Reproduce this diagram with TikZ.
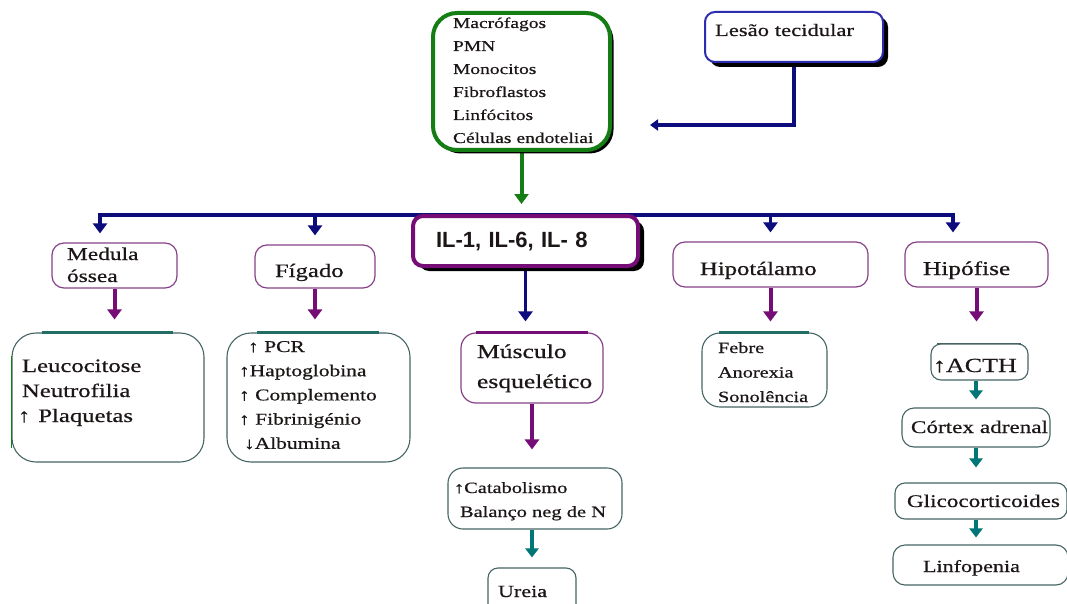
\documentclass[tikz,border=0pt]{standalone}
\usepackage{fontspec}
\setmainfont{Liberation Serif}[FakeStretch=1.3,FakeBold=0.6]
\newfontfamily\ilfont{Liberation Sans}
\usetikzlibrary{arrows.meta,shadows}
\hyphenpenalty=10000
\exhyphenpenalty=10000
\definecolor{cellgreen}{RGB}{20,125,20}
\definecolor{navy}{RGB}{12,12,125}
\definecolor{lesaoblue}{RGB}{45,45,175}
\definecolor{plum}{RGB}{118,12,118}
\definecolor{orchidline}{RGB}{135,65,135}
\definecolor{tealarrow}{RGB}{0,118,118}
\definecolor{tealline}{RGB}{70,100,100}
\definecolor{tealbar}{RGB}{35,110,100}
\definecolor{ink}{RGB}{28,22,22}
\newcommand\nobr[1]{\mbox{#1}}
\pgfdeclarelayer{bg}
\pgfdeclarelayer{links}
\pgfsetlayers{bg,links,main}
\begin{document}
\begin{tikzpicture}[x=1pt,y=-1pt,
  box/.style={rectangle, fill=white, inner ysep=0pt, align=left, text=ink},
  cellbox/.style={box, draw=cellgreen, line width=4pt, rounded corners=24pt,
    drop shadow={shadow xshift=3.5pt, shadow yshift=-3.5pt, fill=black, opacity=1}},
  lesaobox/.style={box, draw=lesaoblue, line width=2pt, rounded corners=10pt,
    drop shadow={shadow xshift=5pt, shadow yshift=-5pt, fill=black, opacity=1}},
  ilbox/.style={box, draw=plum, line width=4pt, rounded corners=10pt,
    drop shadow={shadow xshift=6pt, shadow yshift=-5pt, fill=black, opacity=1}},
  organ/.style={box, draw=orchidline, line width=1.2pt, rounded corners=12pt},
  tealbox/.style={box, draw=tealline, line width=1.1pt, rounded corners=#1},
  tealbox/.default=12pt,
  navyline/.style={draw=navy, line width=3.5pt},
  navytip/.style={-{Triangle[width=14pt,length=10pt]}},
  plumflow/.style={draw=plum, line width=4pt, -{Triangle[width=14pt,length=10pt]}},
  tealflow/.style={draw=tealarrow, line width=4pt, -{Triangle[width=13pt,length=9pt]}},
  greenflow/.style={draw=cellgreen, line width=4pt, -{Triangle[width=14pt,length=10pt]}},
  topbar/.style={draw=tealbar, line width=3pt},
]
\begin{pgfonlayer}{bg}
  \fill[white] (0,0) rectangle (1067,604);
\end{pgfonlayer}
\useasboundingbox (0,0) rectangle (1067,604);

% cell sources and trigger
\node[cellbox, minimum width=177pt, minimum height=137pt, inner xsep=20pt,
  text width=137pt, text height=0pt, text depth=107pt,
  font=\fontsize{15}{23}\selectfont] (cells) at (521.5,81.5)
  {Macrófagos\\PMN\\Monocitos\\Fibroflastos\\Linfócitos\\\nobr{Células endoteliai}};
\node[lesaobox, minimum width=178pt, minimum height=50pt, inner xsep=10pt,
  text width=158pt, text height=0pt, text depth=2pt,
  font=\fontsize{17.4}{20}\selectfont] (lesao) at (794,37) {\nobr{Lesão tecidular}};

% cytokines
\node[ilbox, minimum width=225pt, minimum height=50pt, inner xsep=23pt,
  text width=179pt, text height=12pt, text depth=0pt,
  font={\ilfont\bfseries\fontsize{22}{24}\selectfont}] (il) at (525.5,241)
  {\nobr{IL-1, IL-6, IL- 8}};

% target organs
\node[organ, minimum width=125pt, minimum height=45pt, inner xsep=15pt,
  text width=95pt, text height=0pt, text depth=11pt,
  font=\fontsize{18}{22}\selectfont] (medula) at (114.5,265.5) {Medula\\óssea};
\node[organ, minimum width=120pt, minimum height=43pt, inner xsep=20pt,
  text width=80pt, text height=21pt, text depth=0pt,
  font=\fontsize{19}{22}\selectfont] (figado) at (315,266.5) {Fígado};
\node[organ, minimum width=195pt, minimum height=45pt, inner xsep=27pt,
  text width=141pt, text height=21pt, text depth=0pt,
  font=\fontsize{19}{22}\selectfont] (hipot) at (770.5,264.5) {Hipotálamo};
\node[organ, minimum width=143pt, minimum height=45pt, inner xsep=18pt,
  text width=107pt, text height=21pt, text depth=0pt,
  font=\fontsize{19.5}{22}\selectfont] (hipof) at (976.5,264.5) {Hipófise};
\node[organ, rounded corners=15pt, minimum width=142pt, minimum height=70pt, inner xsep=16pt,
  text width=110pt, text height=0pt, text depth=20pt,
  font=\fontsize{19.7}{30}\selectfont] (musc) at (532,368) {Músculo\\esquelético};

% effects
\node[tealbox=24pt, minimum width=192pt, minimum height=129pt, inner xsep=6pt,
  text width=180pt, text height=0pt, text depth=51pt,
  font=\fontsize{19}{25}\selectfont] (leuco) at (108,397.5)
  {\hspace*{4pt}Leucocitose\\\hspace*{4pt}Neutrofilia\\↑\hspace*{8pt}Plaquetas};
\node[tealbox=24pt, minimum width=183pt, minimum height=129pt, inner xsep=12pt,
  text width=159pt, text height=0pt, text depth=91pt,
  font=\fontsize{16.5}{24.2}\selectfont] (pcr) at (318.5,397.5)
  {\hspace*{9pt}\nobr{↑ PCR}\\↑Haptoglobina\\\nobr{↑ Complemento}\\\nobr{↑ Fibrinigénio}\\\hspace*{5pt}↓Albumina};
\node[tealbox=18pt, minimum width=125pt, minimum height=74pt, inner xsep=16pt,
  text width=93pt, text height=0pt, text depth=34pt,
  font=\fontsize{15.6}{24.5}\selectfont] (febre) at (764.5,370)
  {Febre\\Anorexia\\Sonolência};
\node[tealbox=15pt, minimum width=174pt, minimum height=61pt, inner xsep=6pt,
  text width=162pt, text height=0pt, text depth=11pt,
  font=\fontsize{15.7}{24}\selectfont] (catab) at (535,498.5)
  {↑Catabolismo\\\hspace*{6pt}\nobr{Balanço neg de N}};
\node[tealbox=10pt, minimum width=88pt, minimum height=46pt, inner xsep=10pt,
  text width=68pt, text height=12pt, text depth=0pt,
  font=\fontsize{17}{20}\selectfont] (ureia) at (532,591) {Ureia};
\node[tealbox=10pt, minimum width=97pt, minimum height=36pt, inner xsep=2pt,
  text width=93pt, text height=20pt, text depth=0pt,
  font=\fontsize{20}{22}\selectfont] (acth) at (979.5,362) {↑ACTH};
\node[tealbox=12pt, minimum width=148pt, minimum height=39pt, inner xsep=9pt,
  text width=130pt, text height=11pt, text depth=0pt,
  font=\fontsize{17.8}{20}\selectfont] (cortex) at (976,427.5) {\nobr{Córtex adrenal}};
\node[tealbox=10pt, minimum width=172pt, minimum height=36pt, inner xsep=12pt,
  text width=148pt, text height=12pt, text depth=0pt,
  font=\fontsize{17.8}{20}\selectfont] (glico) at (981,501) {Glicocorticoides};
\node[tealbox=12pt, minimum width=175pt, minimum height=40pt, inner xsep=30pt,
  text width=115pt, text height=14pt, text depth=0pt,
  font=\fontsize{17}{20}\selectfont] (linf) at (980.5,565) {Linfopenia};

% heavier top edges of some boxes
\draw[topbar] ([xshift=31pt]leuco.north west) -- ([xshift=-32pt]leuco.north east);
\draw[topbar] ([xshift=31pt]pcr.north west) -- ([xshift=-32pt]pcr.north east);
\draw[topbar] ([xshift=18pt]febre.north west) -- ([xshift=-19pt]febre.north east);
\draw[topbar, draw=plum] ([xshift=16pt]musc.north west) -- ([xshift=-16pt]musc.north east);
\draw[draw=tealline, line width=1.6pt] ([xshift=7pt]acth.north west) -- ([xshift=-8pt]acth.north east);
\draw[draw=cellgreen, line width=1pt] ([yshift=-24pt]leuco.north west) -- ([yshift=15pt]leuco.south west);

% connectors
\coordinate (lesaoend) at (650,125);
\coordinate (busL) at (100,215);
\coordinate (busR) at (953,215);
\begin{pgfonlayer}{links}
  \draw[navyline, -{Triangle[width=11pt,length=8pt]}] (lesao.south) |- (lesaoend);
  \draw[greenflow, shorten >=10pt] (cells.south) -- (cells.south |- il.north);
  \draw[navyline, {Triangle[width=14pt,length=10pt]}-{Triangle[width=14pt,length=10pt]},
    shorten <=9pt, shorten >=9pt]
    (busL |- medula.north) -- (busL) -- (busR) -- (busR |- hipof.north);
  \draw[navyline, navytip, shorten >=9pt] (figado.north |- busL) -- (figado.north);
  \draw[navyline, navytip, shorten >=9pt] (hipot.north |- busL) -- (hipot.north);
  \draw[navyline, navytip, shorten >=11pt] (il.south) -- (il.south |- musc.north);
  \draw[plumflow, shorten >=13pt] (medula.south) -- (medula.south |- leuco.north);
  \draw[plumflow, shorten >=13pt] (figado.south) -- (figado.south |- pcr.north);
  \draw[plumflow, shorten >=11pt] (hipot.south) -- (hipot.south |- febre.north);
  \draw[plumflow, shorten >=22pt] (hipof.south) -- (hipof.south |- acth.north);
  \draw[plumflow, shorten >=18pt] (musc.south) -- (musc.south |- catab.north);
  \draw[tealflow, shorten >=10pt] (ureia.north |- catab.south) -- (ureia.north);
  \draw[tealflow, shorten >=8pt] (cortex.north |- acth.south) -- (cortex.north);
  \draw[tealflow, shorten >=15pt] (cortex.south) -- (cortex.south |- glico.north);
  \draw[tealflow, shorten >=7pt] (glico.south -| cortex.south) -- (linf.north -| cortex.south);
\end{pgfonlayer}
\end{tikzpicture}
\end{document}
